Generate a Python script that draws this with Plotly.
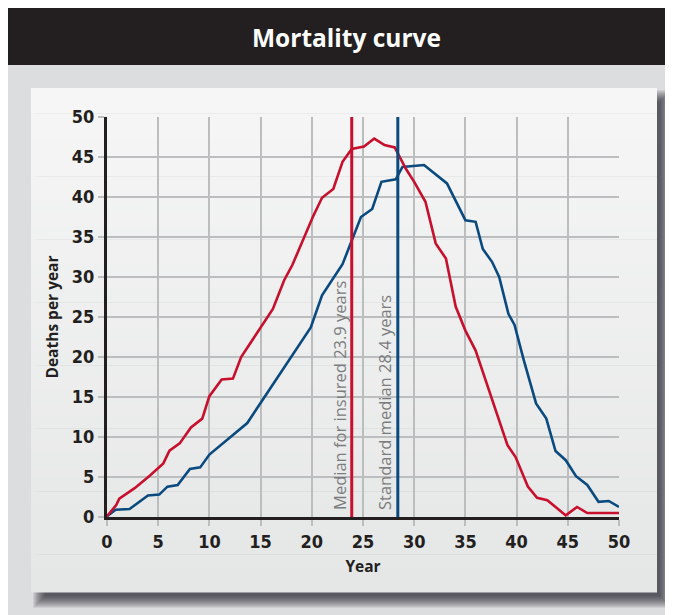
import plotly.graph_objects as go

# ---- data ----
insured_years = [0, 0.9, 1.2, 2.7, 4.2, 5.5, 6.1, 7.1, 8.2, 9.3, 10.0, 11.2, 12.3, 13.1, 14.6,
                 16.2, 17.3, 18.1, 20.1, 21.0, 22.1, 23.0, 23.9, 25.1, 26.1, 27.1, 28.1, 29.2,
                 30.0, 31.1, 32.1, 33.1, 34.05, 35.0, 36.0, 37.6, 39.1, 39.9, 41.1, 42.0, 43.0,
                 44.8, 45.9, 46.9, 50.0]
insured_deaths = [0.1, 1.5, 2.3, 3.6, 5.2, 6.7, 8.3, 9.2, 11.2, 12.3, 15.1, 17.2, 17.3, 20.0, 22.9,
                  26.0, 29.6, 31.5, 37.5, 39.9, 41.0, 44.4, 46.0, 46.3, 47.3, 46.5, 46.2, 43.5,
                  41.9, 39.4, 34.2, 32.3, 26.3, 23.3, 20.8, 14.6, 9.0, 7.5, 3.8, 2.4, 2.1,
                  0.2, 1.25, 0.5, 0.5]

standard_years = [0, 0.85, 2.2, 4.0, 5.1, 5.9, 6.9, 8.1, 9.1, 10.0, 13.7, 19.9, 21.0, 23.0, 24.8,
                  25.9, 26.8, 28.2, 28.85, 30.96, 33.2, 35.0, 36.0, 36.7, 37.6, 38.3, 39.2, 39.8,
                  40.7, 41.9, 42.9, 43.8, 44.8, 45.8, 46.9, 48.0, 49.0, 50.0]
standard_deaths = [0.1, 0.9, 1.0, 2.7, 2.8, 3.8, 4.0, 6.0, 6.2, 7.8, 11.75, 23.7, 27.7, 31.6, 37.5,
                   38.5, 41.9, 42.2, 43.75, 44.0, 41.7, 37.1, 36.9, 33.5, 31.9, 30.0, 25.4, 24.0,
                   19.6, 14.2, 12.3, 8.25, 7.1, 5.1, 4.0, 1.9, 2.0, 1.25]

insured_median = 23.9
standard_median = 28.4
insured_label = "Median for insured 23.9 years"
standard_label = "Standard median 28.4 years"

x_ticks = [0, 5, 10, 15, 20, 25, 30, 35, 40, 45, 50]
y_ticks = [0, 5, 10, 15, 20, 25, 30, 35, 40, 45, 50]

title_text = "Mortality curve"
x_title = "Year"
y_title = "Deaths per year"

RED = "#c8102e"
BLUE = "#0a4a7f"

# ---- geometry helpers (page pixel -> paper); the page body adds an 8px margin ----
OFF = 8
PAGE_W, PAGE_H = 673, 615
W, H = PAGE_W - OFF, PAGE_H - OFF
L, R, T, B = 107, 619, 117, 517   # plot area in page pixels


def px(x):
    return (x - L) / (R - L)


def py(y):
    return (B - y) / (B - T)


def hex2rgb(h):
    h = h.lstrip("#")
    return tuple(int(h[i:i + 2], 16) for i in (0, 2, 4))


shapes = []
# header band
shapes.append(dict(type="rect", xref="paper", yref="paper", x0=px(0), x1=px(PAGE_W + 4), y0=py(65), y1=py(0),
                   fillcolor="#231f20", line_width=0, layer="below"))

# panel shadow (layered to fake a blur)
pl, pt, pr, pb = 31, 88, 657, 592
for e in range(8, -5, -1):
    shapes.append(dict(type="rect", xref="paper", yref="paper",
                       x0=px(pl + 10 - e), x1=px(pr + 7 + e), y0=py(pb + 8 + e), y1=py(pt + 10 - e),
                       fillcolor="rgba(30,30,32,0.08)", line_width=0, layer="below"))

# panel with vertical gradient
top_c = hex2rgb("#f5f6f5")
bot_c = hex2rgb("#e5e6e6")
n = 40
for i in range(n):
    f = i / (n - 1)
    c = tuple(round(top_c[k] + (bot_c[k] - top_c[k]) * f) for k in range(3))
    y0 = pt + (pb - pt) * i / n
    y1 = pt + (pb - pt) * (i + 1) / n
    shapes.append(dict(type="rect", xref="paper", yref="paper",
                       x0=px(pl), x1=px(pr), y0=py(y1 + 0.5), y1=py(y0),
                       fillcolor=f"rgb({c[0]},{c[1]},{c[2]})", line_width=0, layer="below"))

# median lines (data coordinates)
shapes.append(dict(type="line", xref="x", yref="y", x0=insured_median, x1=insured_median,
                   y0=0, y1=50, line=dict(color=RED, width=3), layer="above"))
shapes.append(dict(type="line", xref="x", yref="y", x0=standard_median, x1=standard_median,
                   y0=0, y1=50, line=dict(color=BLUE, width=3), layer="above"))

fig = go.Figure()
fig.add_trace(go.Scatter(x=standard_years, y=standard_deaths, mode="lines",
                         line=dict(color=BLUE, width=2.6), hoverinfo="skip", cliponaxis=False))
fig.add_trace(go.Scatter(x=insured_years, y=insured_deaths, mode="lines",
                         line=dict(color=RED, width=2.6), hoverinfo="skip", cliponaxis=False))

lab_font = dict(family="Open Sans, Noto Sans, sans-serif", size=16.5, color="#7b7c7e")
annotations = [
    dict(text=f"<b>{title_text}</b>", xref="paper", yref="paper", x=px(346), y=py(37),
         xanchor="center", yanchor="middle", showarrow=False,
         font=dict(family="Open Sans, Noto Sans, sans-serif", size=24.5, color="white")),
    dict(text=insured_label, xref="x", yref="y", x=insured_median - 1.2, y=0, yshift=5,
         xanchor="center", yanchor="bottom", textangle=-90, showarrow=False, font=lab_font),
    dict(text=standard_label, xref="x", yref="y", x=standard_median - 1.3, y=0, yshift=5,
         xanchor="center", yanchor="bottom", textangle=-90, showarrow=False, font=lab_font),
]

tick_font = dict(family="DejaVu Sans Condensed, Liberation Sans Narrow, Roboto, sans-serif",
                 size=18, color="#231f20", weight="bold")
axis_title_font = dict(family="Open Sans, Noto Sans, sans-serif", size=15.5, color="#231f20", weight="bold")

fig.update_layout(
    width=W, height=H,
    margin=dict(l=L - OFF, r=PAGE_W - R, t=T - OFF, b=PAGE_H - B, pad=0),
    paper_bgcolor="#dcdddf",
    plot_bgcolor="rgba(0,0,0,0)",
    showlegend=False,
    shapes=shapes,
    annotations=annotations,
    xaxis=dict(range=[0, 50], tickvals=x_ticks, ticktext=[str(v) for v in x_ticks],
               showgrid=True, gridcolor="#bcbdbf", gridwidth=2, zeroline=False,
               showline=True, linecolor="#231f20", linewidth=3,
               ticks="outside", ticklen=6, tickwidth=2, tickcolor="#bcbdbf",
               tickfont=tick_font, fixedrange=True,
               title=dict(text=x_title, font=axis_title_font, standoff=11)),
    yaxis=dict(range=[0, 50], tickvals=y_ticks, ticktext=[str(v) for v in y_ticks],
               showgrid=True, gridcolor="#bcbdbf", gridwidth=2, zeroline=False,
               showline=True, linecolor="#231f20", linewidth=3,
               ticks="outside", ticklen=6, tickwidth=2, tickcolor="#bcbdbf",
               tickfont=tick_font, fixedrange=True,
               title=dict(text=y_title, font=axis_title_font, standoff=10)),
)

fig.write_html("out.html", config=dict(displayModeBar=False))
